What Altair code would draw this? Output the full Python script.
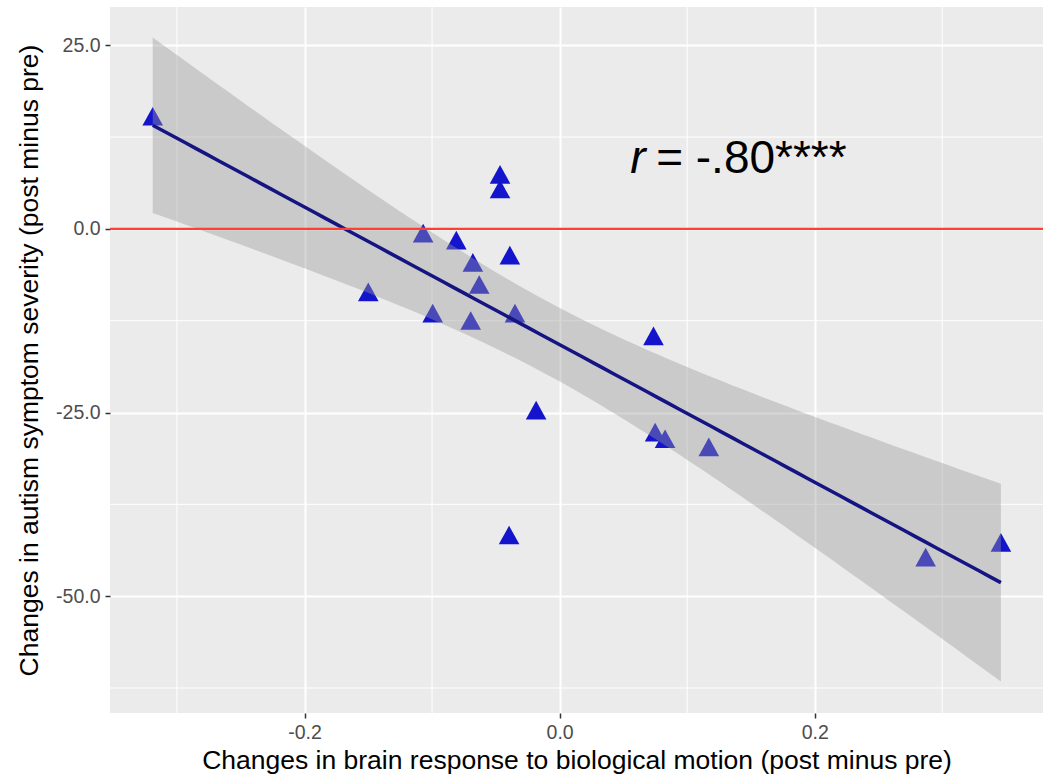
import altair as alt
import numpy as np
import pandas as pd

# ---- data ----
brain_change = [-0.319, -0.0467, -0.0467, -0.107, -0.081, -0.039, -0.068, -0.063, -0.150,
                -0.0995, -0.0697, -0.035, 0.0736, -0.0184, -0.0396, 0.0749, 0.0827, 0.117,
                0.287, 0.346]
symptom_change = [14.9, 7.0, 5.0, -1.0, -1.95, -4.0, -5.0, -8.0, -9.0,
                  -11.9, -12.9, -11.9, -15.0, -25.1, -42.1, -28.1, -29.0, -30.1,
                  -45.1, -43.1]
x_ticks = [-0.2, 0.0, 0.2]
y_ticks = [25.0, 0.0, -25.0, -50.0]
x_minor = [-0.3, -0.1, 0.1, 0.3]
y_minor = [12.5, -12.5, -37.5, -62.5]
ref_line = [0.0]
annot_r = "r"
annot_rest = "= -.80****"

# ---- linear fit with 95% confidence band (as geom_smooth(method = "lm")) ----
x = np.array(brain_change)
y = np.array(symptom_change)
n = len(x)
xbar, ybar = x.mean(), y.mean()
sxx = ((x - xbar) ** 2).sum()
slope = ((x - xbar) * (y - ybar)).sum() / sxx
intercept = ybar - slope * xbar
resid = y - (intercept + slope * x)
s = np.sqrt((resid ** 2).sum() / (n - 2))
t_crit = 2.10092204  # t(0.975, df = 18)
grid = np.linspace(x.min(), x.max(), 80)
fit = intercept + slope * grid
se = s * np.sqrt(1.0 / n + (grid - xbar) ** 2 / sxx)
fit_df = pd.DataFrame({"x": grid, "fit": fit, "lo": fit - t_crit * se, "hi": fit + t_crit * se})

pts = pd.DataFrame({"x": brain_change, "y": symptom_change})

FONT = "Liberation Sans"
xs = alt.Scale(domain=[-0.3525, 0.379], nice=False, zero=False)
ys = alt.Scale(domain=[-65.9, 30.2], nice=False, zero=False)

minus_fix = "replace(format(datum.value, '.1f'), '\u2212', '-')"
x_axis = alt.Axis(
    values=x_ticks, labelExpr=minus_fix, title="Changes in brain response to biological motion (post minus pre)",
    domain=False, grid=True, gridColor="white", gridWidth=2,
    ticks=True, tickColor="#333333", tickSize=5, tickWidth=1.5,
    labelFont=FONT, labelFontSize=19.5, labelColor="#4D4D4D", labelPadding=5,
    titleFont=FONT, titleFontSize=26.5, titleFontWeight="normal", titleColor="black",
    titleY=55, titleBaseline="alphabetic",
)
y_axis = alt.Axis(
    values=y_ticks, labelExpr=minus_fix, title="Changes in autism symptom severity (post minus pre)",
    domain=False, grid=True, gridColor="white", gridWidth=2,
    ticks=True, tickColor="#333333", tickSize=5, tickWidth=1.5,
    labelFont=FONT, labelFontSize=19.5, labelColor="#4D4D4D", labelPadding=5,
    titleFont=FONT, titleFontSize=26.5, titleFontWeight="normal", titleColor="black",
    titleX=-73, titleY=353, titleBaseline="alphabetic", titleAngle=270,
)


def X(field):
    return alt.X(f"{field}:Q", scale=xs, axis=x_axis)


def Y(field):
    return alt.Y(f"{field}:Q", scale=ys, axis=y_axis)


minor_v = alt.Chart(pd.DataFrame({"x": x_minor})).mark_rule(color="white", strokeWidth=1).encode(x=X("x"))
minor_h = alt.Chart(pd.DataFrame({"y": y_minor})).mark_rule(color="white", strokeWidth=1).encode(y=Y("y"))

tri = "M0,-1.25L1.03,0.62L-1.03,0.62Z"
points = alt.Chart(pts).mark_point(
    shape=tri, size=400, filled=True, color="#1414CC", opacity=1
).encode(x=X("x"), y=Y("y"))

band = alt.Chart(fit_df).mark_area(color="#999999", opacity=0.4).encode(
    x=X("x"), y=Y("lo"), y2="hi:Q"
)
line = alt.Chart(fit_df).mark_line(color="#141482", strokeWidth=3.5).encode(x=X("x"), y=Y("fit"))

hline = alt.Chart(pd.DataFrame({"y": ref_line})).mark_rule(color="#FF4030", strokeWidth=2.2).encode(y=Y("y"))

ann = pd.DataFrame({"x": [0.0553], "y": [7.67], "t": [annot_r]})
ann2 = pd.DataFrame({"x": [0.0757], "y": [7.67], "t": [annot_rest]})
txt_r = alt.Chart(ann).mark_text(
    font=FONT, fontSize=46, fontStyle="italic", align="left", baseline="alphabetic", color="black"
).encode(x=X("x"), y=Y("y"), text="t:N")
txt_rest = alt.Chart(ann2).mark_text(
    font=FONT, fontSize=46, align="left", baseline="alphabetic", color="black"
).encode(x=X("x"), y=Y("y"), text="t:N")

chart = alt.layer(minor_v, minor_h, points, band, line, hline, txt_r, txt_rest).properties(
    width=933, height=706,
    padding={"left": 110, "top": 7, "right": 8, "bottom": 61},
    autosize=alt.AutoSizeParams(type="none"),
    background="white",
).configure_view(fill="#EBEBEB", stroke=None)

chart.save("out.html", embed_options={"renderer": "svg", "actions": False})
